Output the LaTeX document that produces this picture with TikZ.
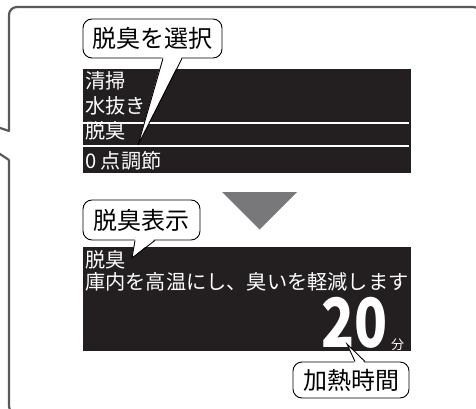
\documentclass[tikz,border=0pt]{standalone}
\usepackage{fontspec}
\newfontfamily\jp{Noto Sans CJK JP}
\definecolor{framegray}{HTML}{595959}
\definecolor{arrowgray}{HTML}{78787A}
\definecolor{screenblack}{HTML}{231F20}
\tikzset{
  frameline/.style={draw=framegray, line width=2.2pt},
  screen/.style={fill=screenblack, inner sep=0pt, outer sep=0pt, anchor=north west},
  scrtext/.style={text=white, inner sep=0pt, anchor=base west, font=\jp\fontsize{20.2}{21}\selectfont},
  selline/.style={draw=white, line width=1.3pt},
  callout/.style={draw=black, fill=white, line width=0.9pt, rounded corners=9pt, inner sep=0pt, font=\jp\fontsize{24}{26}\selectfont},
  pointerline/.style={draw=black, line width=0.9pt, line join=miter},
}
\begin{document}
\begin{tikzpicture}[x=1pt,y=-1pt]
\useasboundingbox (0,0) rectangle (476,409);
\clip (0,0) rectangle (476,409);
% outer frame with pointer notch on the left
\draw[frameline, rounded corners=8pt] (9,131) -- (9,7) -- (481,7) -- (481,414) -- (9,414) -- (9,160);
\draw[frameline, line cap=round] (-2,127.3) -- (9,131);
\draw[frameline, line cap=round] (9,160) -- (-2,152.7);

% screen 1
\node[screen, minimum width=328pt, minimum height=104pt] (s1) at (83,69) {};
\node[scrtext] (m1) at (85,88.6) {清掃};
\node[scrtext] (m2) at (85,113.6) {水抜き};
\node[scrtext] (m3) at (85,138.8) {脱臭};
\node[scrtext] (m4) at (85,168.4) {0 点調節};
\coordinate (l1a) at (83,123); \coordinate (l1b) at (409,123);
\coordinate (l2a) at (83,146); \coordinate (l2b) at (409,146);
\draw[selline] (l1a) -- (l1b);
\draw[selline] (l2a) -- (l2b);

% callout 1
\node[callout, minimum width=139pt, minimum height=39pt] (c1) at (152.5,38.5) {脱臭を選択};
\coordinate (t1) at (138,145);
\fill[white] ([xshift=10.5pt,yshift=2pt]c1.south) -- (t1) -- ([xshift=29.5pt,yshift=2pt]c1.south) -- cycle;
\draw[pointerline] ([xshift=10.5pt]c1.south) -- (t1) -- ([xshift=29.5pt]c1.south);

% down arrow
\fill[arrowgray] (222,192) -- (297,192) -- (259.5,229.5) -- cycle;

% screen 2
\node[screen, minimum width=328pt, minimum height=104pt] (s2) at (83,247) {};
\node[scrtext] (d1) at (85,267.6) {脱臭};
\node[scrtext] (d2) at (85,289.6) {庫内を高温にし、臭いを軽減します};
\node[text=white, inner sep=0pt, anchor=base east, font=\jp\bfseries\fontsize{68}{69}\selectfont] (num) at (388,347.5) {\scalebox{0.8}[1]{20}};
\node[text=white, inner sep=0pt, anchor=base west, font=\jp\fontsize{13}{14}\selectfont] (unit) at (391,349.5) {分};

% callout 2
\node[callout, minimum width=117pt, minimum height=40pt] (c2) at (141.5,220) {脱臭表示};
\coordinate (t2) at (132,258);
\fill[white] ([xshift=-6.5pt,yshift=2pt]c2.south) -- (t2) -- ([xshift=13.5pt,yshift=2pt]c2.south) -- cycle;
\draw[pointerline] ([xshift=-6.5pt]c2.south) -- (t2) -- ([xshift=13.5pt]c2.south);

% callout 3
\node[callout, minimum width=116pt, minimum height=36pt] (c3) at (351,380) {加熱時間};
\coordinate (t3) at (347,344);
\fill[white] ([xshift=4pt,yshift=-2pt]c3.north) -- (t3) -- ([xshift=14pt,yshift=-2pt]c3.north) -- cycle;
\draw[pointerline] ([xshift=4pt]c3.north) -- (t3) -- ([xshift=14pt]c3.north);
\end{tikzpicture}
\end{document}
